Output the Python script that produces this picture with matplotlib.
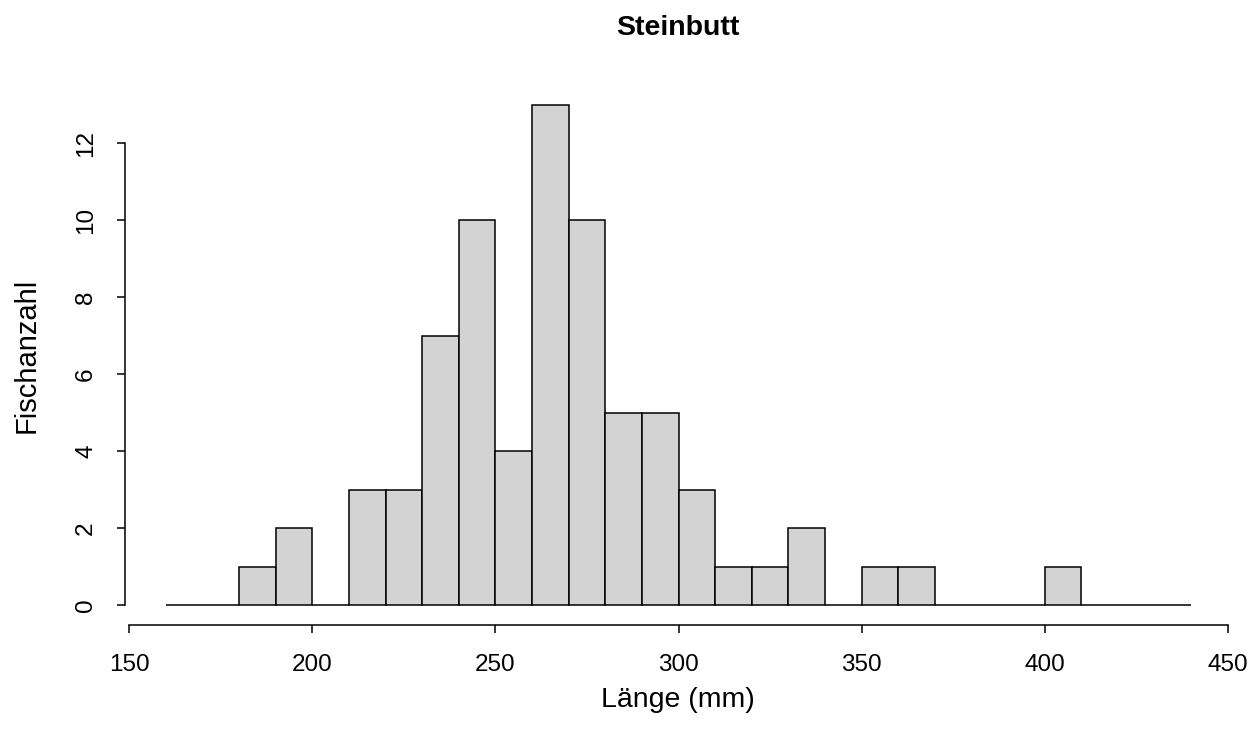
import matplotlib.pyplot as plt
import numpy as np

plt.rcParams['font.family'] = ['Liberation Sans', 'DejaVu Sans']

# histogram of turbot lengths, bins of 10 mm
bin_edges = list(range(160, 440, 10))
counts = [0, 0, 1, 2, 0, 3, 3, 7, 10, 4, 13, 10, 5, 5, 3, 1, 1, 2, 0, 1, 1, 0, 0, 0, 1, 0, 0, 0]
x_ticks = [150, 200, 250, 300, 350, 400, 450]
y_ticks = [0, 2, 4, 6, 8, 10, 12]

W, H = 1257, 747
fig = plt.figure(figsize=(W / 100, H / 100), dpi=100)
ax = fig.add_axes([125 / W, (H - 625) / H, (1232 - 125) / W, (625 - 85) / H])

ax.bar(bin_edges, counts, width=10, align='edge', color='#d3d3d3',
       edgecolor='black', linewidth=1.1)

ax.set_xlim(148.8, 451.2)
ax.set_ylim(-0.52, 13.52)
for s in ['top', 'right']:
    ax.spines[s].set_visible(False)
ax.spines['left'].set_bounds(0, 12)
ax.spines['bottom'].set_bounds(150, 450)
for s in ['left', 'bottom']:
    ax.spines[s].set_linewidth(1.1)

ax.set_xticks(x_ticks)
ax.set_yticks(y_ticks)
ax.tick_params(axis='both', length=6, width=1.1, labelsize=17.5, colors='black')
ax.tick_params(axis='x', pad=15)
ax.tick_params(axis='y', pad=14)
plt.setp(ax.get_yticklabels(), rotation=90, va='center')

fig.text(678 / W, 1 - 28 / H, 'Steinbutt', ha='center', va='center',
         fontsize=20.5, fontweight='bold')
fig.text(678 / W, 1 - 700 / H, 'Länge (mm)', ha='center', va='center', fontsize=20.5)
fig.text(27 / W, 1 - 355 / H, 'Fischanzahl', ha='center', va='center',
         rotation=90, fontsize=21)

fig.savefig('out.png', dpi=100)
